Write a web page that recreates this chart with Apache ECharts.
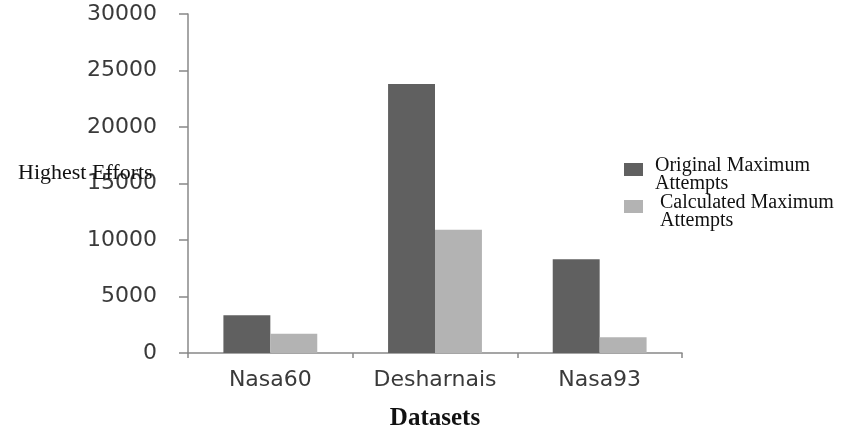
<!DOCTYPE html>
<html><head><meta charset="utf-8">
<script src="https://cdn.jsdelivr.net/npm/echarts@6/dist/echarts.min.js"></script>
<style>html,body{margin:0;padding:0;background:#fff}#c{width:857px;height:425px}</style>
</head><body><div id="c"></div>
<script>
const categories = ['Nasa60', 'Desharnais', 'Nasa93'];
const originalMax = [3350, 23800, 8300];
const calculatedMax = [1700, 10900, 1400];
const seriesNames = ['Original Maximum\nAttempts', 'Calculated Maximum\nAttempts'];

const chart = echarts.init(document.getElementById('c'), null, {renderer: 'canvas'});
chart.setOption({
  animation: false,
  backgroundColor: '#fff',
  title: {
    text: 'Highest Efforts',
    left: 13, top: 157,
    textStyle: {fontFamily: 'Liberation Serif', fontSize: 22, fontWeight: 'normal', color: '#111'}
  },
  legend: {
    orient: 'vertical',
    left: 619, top: 151,
    itemWidth: 19, itemHeight: 24, itemGap: -1,
    icon: 'path://M0,0H19V13H0Z M0,23.9H0.1V24H0Z',
    formatter: function (name) { return name === seriesNames[1] ? ' Calculated Maximum\n Attempts' : name; },
    textStyle: {fontFamily: 'Liberation Serif', fontSize: 20, lineHeight: 18, color: '#111', padding: [0, 0, 0, 7]}
  },
  grid: {left: 188, right: 175, top: 14, bottom: 72, outerBoundsMode: 'none', containLabel: false},
  xAxis: {
    type: 'category',
    data: categories,
    name: 'Datasets',
    nameLocation: 'middle',
    nameGap: 53,
    nameTextStyle: {fontFamily: 'Liberation Serif', fontSize: 25, fontWeight: 'bold', color: '#111'},
    axisLine: {lineStyle: {color: '#888', width: 1.5}},
    axisTick: {show: true, length: 5, alignWithLabel: false, lineStyle: {color: '#888', width: 1.5}},
    axisLabel: {fontFamily: 'DejaVu Sans', fontSize: 22, color: '#3a3a3a', margin: 16}
  },
  yAxis: {
    type: 'value',
    min: 0, max: 30000, interval: 5000,
    axisLine: {show: true, lineStyle: {color: '#888', width: 1.5}},
    axisTick: {show: true, length: 9, lineStyle: {color: '#888', width: 1.5}},
    splitLine: {show: false},
    axisLabel: {fontFamily: 'DejaVu Sans', fontSize: 22, color: '#3a3a3a', margin: 31,
                formatter: function (v) { return String(v); }}
  },
  series: [
    {name: seriesNames[0], type: 'bar', data: originalMax, barGap: '0%', barCategoryGap: '43%',
     itemStyle: {color: '#606060'}},
    {name: seriesNames[1], type: 'bar', data: calculatedMax,
     itemStyle: {color: '#b3b3b3'}}
  ]
});
</script></body></html>
